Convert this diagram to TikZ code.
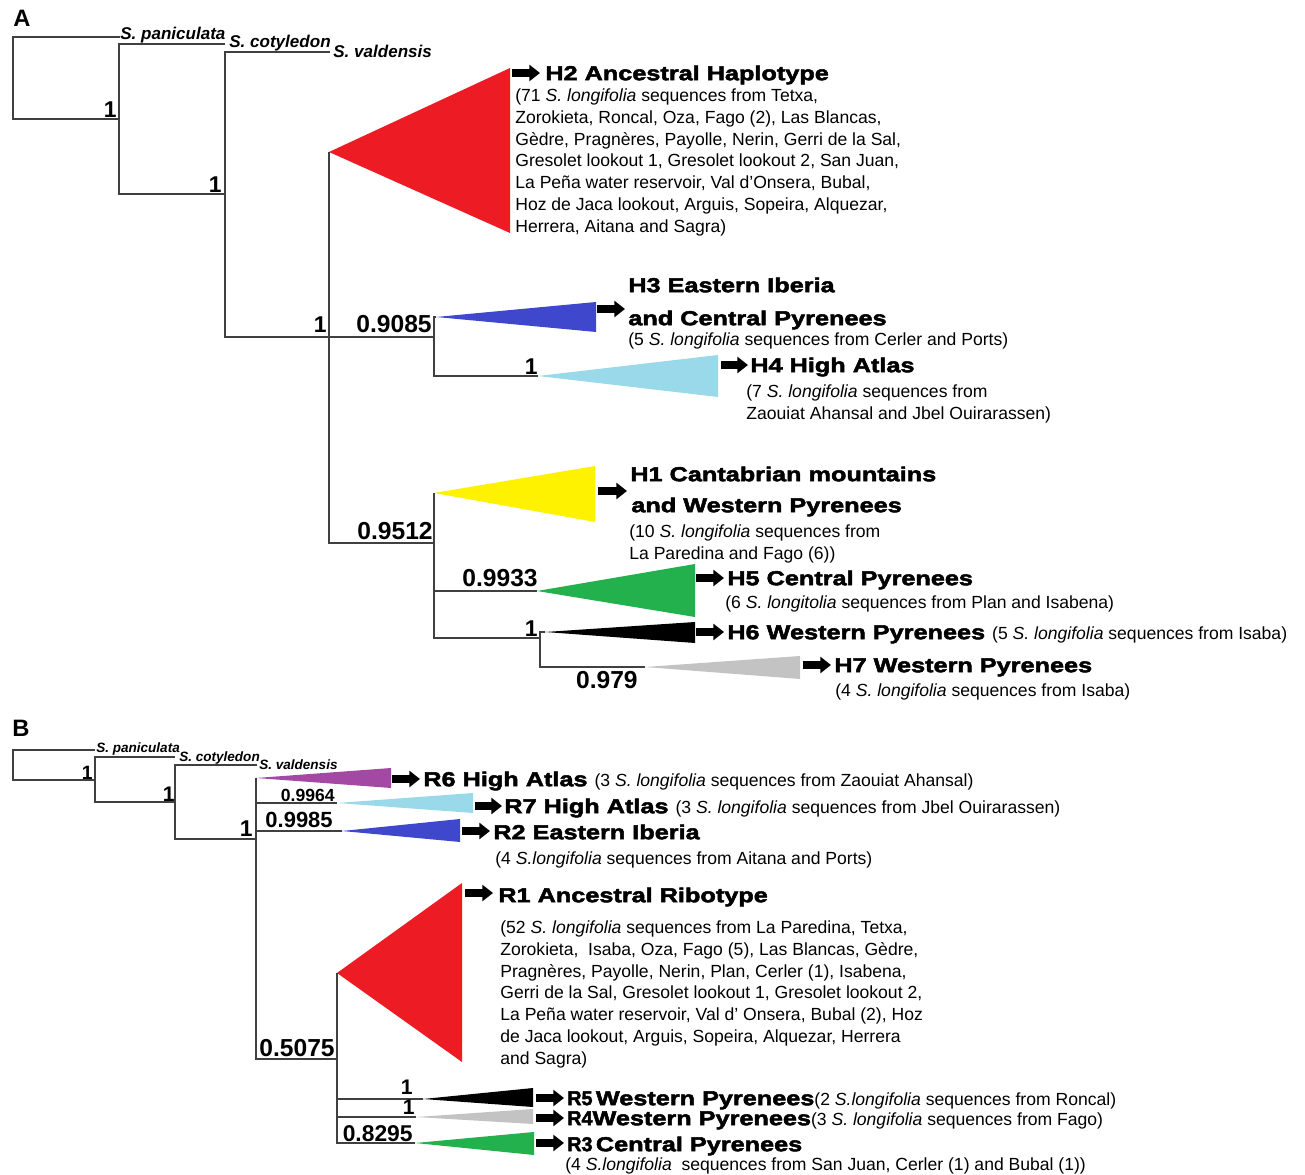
\documentclass[tikz,border=0pt]{standalone}
\usepackage{fontspec}
\setmainfont{Liberation Sans}
\newfontfamily\blackfont[FakeStretch=1.25, BoldFeatures={FakeBold=2.5}]{Liberation Sans}
\usepackage{graphicx}
\usepackage{tikz}
\usetikzlibrary{positioning}
\usetikzlibrary{calc}
\usetikzlibrary{arrows.meta}

\definecolor{lineg}{HTML}{404040}
\definecolor{cladered}{HTML}{ED1C24}
\definecolor{cladeblue}{HTML}{3F48CC}
\definecolor{cladecyan}{HTML}{99D9EA}
\definecolor{cladeyellow}{HTML}{FFF200}
\definecolor{cladegreen}{HTML}{22B14C}
\definecolor{cladegray}{HTML}{C3C3C3}
\definecolor{cladepurple}{HTML}{A349A4}

\newcommand{\sz}[1]{\fontsize{#1}{#1}\selectfont}
\newcommand{\seqfont}{\normalfont\fontsize{10}{12.5}\selectfont}
\newcommand{\rtag}[1]{\scalebox{0.78}[1]{#1}}

\begin{document}
\begin{tikzpicture}[x=0.02cm, y=-0.02cm,
    branch/.style={draw=lineg, line width=0.7pt},
    ptr/.style={line width=4pt, -{Triangle[length=6pt, width=9pt]}},
    hd/.style={anchor=west, inner sep=0pt, text height=8.2pt, text depth=0pt, font=\blackfont\sz{11.5}\bfseries},
    seq/.style={anchor=north west, inner sep=0pt, align=left, font=\seqfont},
    spc/.style={anchor=base west, inner sep=0pt, font=\sz{#1}\bfseries\itshape},
    bsup/.style={anchor=south east, inner sep=0pt, font=\sz{#1}\bfseries},
    panel/.style={anchor=west, inner sep=0pt, font=\sz{13.5}\bfseries}]

    \useasboundingbox (0,0) rectangle (1305,1175);

    % ---------- A: haplotypes
    \node[panel] (pa) at (13,18) {A};

    \coordinate (aroot) at (13,78);
    \coordinate (apan) at (120,37);
    \coordinate (an1) at (119,119);
    \coordinate (acot) at (225,44);
    \coordinate (an2) at (225,194);
    \coordinate (aval) at (330,52);
    \coordinate (an3) at (329,337);
    \coordinate (an4) at (434,337);
    \coordinate (an5) at (434,543);
    \coordinate (an6) at (540,638);
    \coordinate (h2a) at (329,152);
    \coordinate (h3a) at (436,317);
    \coordinate (h4a) at (538,376);
    \coordinate (h1a) at (434,493);
    \coordinate (h5a) at (537,591);
    \coordinate (h6a) at (545,632);
    \coordinate (h7a) at (645,667);

    \fill[cladered] (h2a) -- (510,68) -- (510,233) -- cycle;
    \fill[cladeblue] (h3a) -- (596,302) -- (596,332) -- cycle;
    \fill[cladecyan] (h4a) -- (718,355) -- (718,397) -- cycle;
    \fill[cladeyellow] (h1a) -- (595,466) -- (595,522) -- cycle;
    \fill[cladegreen] (h5a) -- (695,564) -- (695,617) -- cycle;
    \fill[black] (h6a) -- (695,622) -- (695,643) -- cycle;
    \fill[cladegray] (h7a) -- (800,656) -- (800,679) -- cycle;

    \draw[branch] (apan) -| (aroot) |- (an1);
    \draw[branch] (acot) -| (an1) |- (an2);
    \draw[branch] (aval) -| (an2) |- (an3);
    \draw[branch] (h2a) -- (an3) |- (an5);
    \draw[branch] (an3) -- (an4);
    \draw[branch] (h3a) -| (an4) |- (h4a);
    \draw[branch] (h1a) -- (an5) |- (an6);
    \draw[branch] (an5 |- h5a) -- (h5a);
    \draw[branch] (h6a) -| (an6) |- (h7a);

    \node[spc=9.7] (apanl) at (120,40) {S. paniculata};
    \node[spc=9.7] (acotl) at (229,48) {S. cotyledon};
    \node[spc=9.7] (avall) at (333,58) {S. valdensis};

    \node[bsup=13] (s1) at (117,118) {1};
    \node[bsup=13] (s2) at (222,193) {1};
    \node[bsup=13] (s3) at (327,333) {1};
    \node[bsup=14] (s4) at (432,333) {0.9085};
    \node[bsup=13] (s5) at (538,375) {1};
    \node[bsup=14] (s6) at (433,540) {0.9512};
    \node[bsup=14] (s7) at (538,587) {0.9933};
    \node[bsup=13] (s8) at (538,637) {1};
    \node[bsup=14, anchor=north east] (s9) at (638,671) {0.979};

    \node[hd] (h2t) at (545,73) {H2 Ancestral Haplotype};
    \node[seq] (h2s) at (515,88) {(71 \textit{S. longifolia} sequences from Tetxa,\\
        Zorokieta, Roncal, Oza, Fago (2), Las Blancas,\\
        Gèdre, Pragnères, Payolle, Nerin, Gerri de la Sal,\\
        Gresolet lookout 1, Gresolet lookout 2, San Juan,\\
        La Peña water reservoir, Val d'Onsera, Bubal,\\
        Hoz de Jaca lookout, Arguis, Sopeira, Alquezar,\\
        Herrera, Aitana and Sagra)};
    \node[hd] (h3t) at (628,285) {H3 Eastern Iberia};
    \node[hd] (h3u) at (628,318) {and Central Pyrenees};
    \node[seq] (h3s) at (628,332) {(5 \textit{S. longifolia} sequences from Cerler and Ports)};
    \node[hd] (h4t) at (750,365) {H4 High Atlas};
    \node[seq] (h4s) at (746,384) {(7 \textit{S. longifolia} sequences from\\
        Zaouiat Ahansal and Jbel Ouirarassen)};
    \node[hd] (h1t) at (630,474) {H1 Cantabrian mountains};
    \node[hd] (h1u) at (631,505) {and Western Pyrenees};
    \node[seq] (h1s) at (629,524) {(10 \textit{S. longifolia} sequences from\\
        La Paredina and Fago (6))};
    \node[hd] (h5t) at (727,578) {H5 Central Pyrenees};
    \node[seq] (h5s) at (725,595) {(6 \textit{S. longitolia} sequences from Plan and Isabena)};
    \node[hd] (h6t) at (727,632) {H6 Western Pyrenees {\seqfont(5 \textit{S. longifolia} sequences from Isaba)}};
    \node[hd] (h7t) at (834,665) {H7 Western Pyrenees};
    \node[seq] (h7s) at (835,683) {(4 \textit{S. longifolia} sequences from Isaba)};

    \draw[ptr] ($(h2t.west)+(-33,0)$) -- ($(h2t.west)+(-5,0)$);
    \draw[ptr] ($(h3u.west)+(-31,-9)$) -- ($(h3u.west)+(-3,-9)$);
    \draw[ptr] ($(h4t.west)+(-29,0)$) -- ($(h4t.west)+(-2,0)$);
    \draw[ptr] ($(h1u.west)+(-33,-14)$) -- ($(h1u.west)+(-4,-14)$);
    \draw[ptr] ($(h5t.west)+(-31,0)$) -- ($(h5t.west)+(-3,0)$);
    \draw[ptr] ($(h6t.west)+(-31,0)$) -- ($(h6t.west)+(-3,0)$);
    \draw[ptr] ($(h7t.west)+(-31,0)$) -- ($(h7t.west)+(-3,0)$);

    % ---------- B: ribotypes
    \node[panel] (pb) at (12,728) {B};

    \coordinate (broot) at (13,765);
    \coordinate (bpan) at (95,750);
    \coordinate (bn1) at (95,780);
    \coordinate (bcot) at (175,757);
    \coordinate (bn2) at (175,802);
    \coordinate (bval) at (257,765);
    \coordinate (bn3) at (256,839);
    \coordinate (bn4) at (337,1059);
    \coordinate (r6a) at (256,778);
    \coordinate (r7a) at (337,803);
    \coordinate (r2a) at (342,831);
    \coordinate (r1a) at (337,973);
    \coordinate (r5a) at (423,1099);
    \coordinate (r4a) at (416,1117);
    \coordinate (r3a) at (415,1143);

    \fill[cladepurple] (r6a) -- (391,768) -- (391,788) -- cycle;
    \fill[cladecyan] (r7a) -- (473,793) -- (473,813) -- cycle;
    \fill[cladeblue] (r2a) -- (460,819) -- (460,842) -- cycle;
    \fill[cladered] (r1a) -- (462,883) -- (462,1062) -- cycle;
    \fill[black] (r5a) -- (533,1088) -- (533,1107) -- cycle;
    \fill[cladegray] (r4a) -- (533,1109) -- (533,1124) -- cycle;
    \fill[cladegreen] (r3a) -- (534,1132) -- (534,1155) -- cycle;

    \draw[branch] (bpan) -| (broot) |- (bn1);
    \draw[branch] (bcot) -| (bn1) |- (bn2);
    \draw[branch] (bval) -| (bn2) |- (bn3);
    \draw[branch] (r6a) -- (bn3) |- (bn4);
    \draw[branch] (bn3 |- r7a) -- (r7a);
    \draw[branch] (bn3 |- r2a) -- (r2a);
    \draw[branch] (r1a) -- (bn4) |- (r3a);
    \draw[branch] (bn4 |- r5a) -- (r5a);
    \draw[branch] (bn4 |- r4a) -- (r4a);

    \node[spc=7.7] (bpanl) at (96,752) {S. paniculata};
    \node[spc=7.7] (bcotl) at (179,761) {S. cotyledon};
    \node[spc=7.7] (bvall) at (259,769) {S. valdensis};

    \node[bsup=11] (t1) at (93,780) {1};
    \node[bsup=12] (t2) at (175,802) {1};
    \node[bsup=13] (t3) at (253,837) {1};
    \node[bsup=10] (t4) at (335,802) {0.9964};
    \node[bsup=12.5] (t5) at (333,828) {0.9985};
    \node[bsup=14] (t6) at (335,1057) {0.5075};
    \node[bsup=12] (t7) at (413,1095) {1};
    \node[bsup=12] (t8) at (415,1115) {1};
    \node[bsup=13] (t9) at (413,1142) {0.8295};

    \node[hd] (r6t) at (423,779) {R6 High Atlas {\seqfont(3 \textit{S. longifolia} sequences from Zaouiat Ahansal)}};
    \node[hd] (r7t) at (504,806) {R7 High Atlas {\seqfont(3 \textit{S. longifolia} sequences from Jbel Ouirarassen)}};
    \node[hd] (r2t) at (493,832) {R2 Eastern Iberia};
    \node[seq] (r2s) at (495,851) {(4 \textit{S.longifolia} sequences from Aitana and Ports)};
    \node[hd] (r1t) at (498,895) {R1 Ancestral Ribotype};
    \node[seq] (r1s) at (500,920) {(52 \textit{S. longifolia} sequences from La Paredina, Tetxa,\\
        Zorokieta, \ Isaba, Oza, Fago (5), Las Blancas, Gèdre,\\
        Pragnères, Payolle, Nerin, Plan, Cerler (1), Isabena,\\
        Gerri de la Sal, Gresolet lookout 1, Gresolet lookout 2,\\
        La Peña water reservoir, Val d' Onsera, Bubal (2), Hoz\\
        de Jaca lookout, Arguis, Sopeira, Alquezar, Herrera\\
        and Sagra)};
    \node[hd] (r5t) at (567,1098) {\rtag{R5}\,Western Pyrenees{\seqfont(2 \textit{S.longifolia} sequences from Roncal)}};
    \node[hd] (r4t) at (567,1118) {\rtag{R4}Western Pyrenees{\seqfont(3 \textit{S. longifolia} sequences from Fago)}};
    \node[hd] (r3t) at (567,1144) {\rtag{R3}\,Central Pyrenees};
    \node[seq] (r3s) at (565,1157) {(4 \textit{S.longifolia} \ sequences from San Juan, Cerler (1) and Bubal (1))};

    \draw[ptr] ($(r6t.west)+(-31,0)$) -- ($(r6t.west)+(-3,0)$);
    \draw[ptr] ($(r7t.west)+(-29,0)$) -- ($(r7t.west)+(-2,0)$);
    \draw[ptr] ($(r2t.west)+(-31,-1)$) -- ($(r2t.west)+(-3,-1)$);
    \draw[ptr] ($(r1t.west)+(-33,-2)$) -- ($(r1t.west)+(-5,-2)$);
    \draw[ptr] ($(r5t.west)+(-31,0)$) -- ($(r5t.west)+(-3,0)$);
    \draw[ptr] ($(r4t.west)+(-31,0)$) -- ($(r4t.west)+(-3,0)$);
    \draw[ptr] ($(r3t.west)+(-31,-1)$) -- ($(r3t.west)+(-3,-1)$);

\end{tikzpicture}
\end{document}
